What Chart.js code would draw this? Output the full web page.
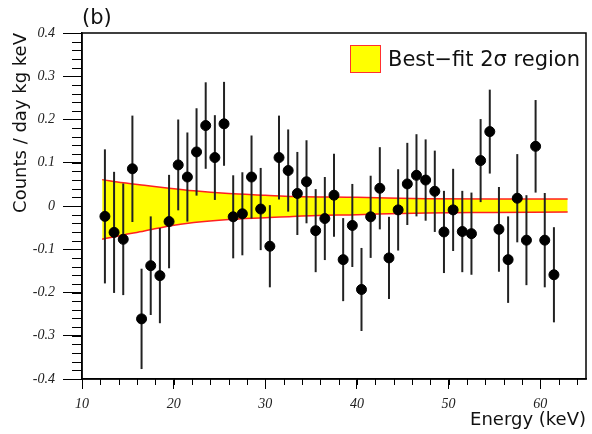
<!DOCTYPE html>
<html>
<head>
<meta charset="utf-8">
<script src="https://cdn.jsdelivr.net/npm/chart.js@4"></script>
<style>
    body { margin: 0; background: #fff; }
    #box { width: 592px; height: 434px; position: relative; }
</style>
</head>
<body>
<div id="box"><canvas id="spectrum"></canvas></div>
<script>
// residual counts per energy bin
var energy = [12.5, 13.5, 14.5, 15.5, 16.5, 17.5, 18.5, 19.5, 20.5, 21.5,
    22.5, 23.5, 24.5, 25.5, 26.5, 27.5, 28.5, 29.5, 30.5, 31.5,
    32.5, 33.5, 34.5, 35.5, 36.5, 37.5, 38.5, 39.5, 40.5, 41.5,
    42.5, 43.5, 44.5, 45.5, 46.5, 47.5, 48.5, 49.5, 50.5, 51.5,
    52.5, 53.5, 54.5, 55.5, 56.5, 57.5, 58.5, 59.5, 60.5, 61.5];
var counts = [-0.024, -0.061, -0.077, 0.086, -0.261, -0.138, -0.161, -0.036, 0.095, 0.067,
    0.125, 0.186, 0.112, 0.190, -0.025, -0.018, 0.067, -0.007, -0.093, 0.112,
    0.082, 0.029, 0.056, -0.057, -0.029, 0.025, -0.124, -0.045, -0.193, -0.025,
    0.041, -0.120, -0.009, 0.051, 0.071, 0.060, 0.034, -0.060, -0.009, -0.059,
    -0.064, 0.105, 0.172, -0.054, -0.124, 0.018, -0.079, 0.138, -0.079, -0.159];
var errors = [0.155, 0.140, 0.129, 0.123, 0.116, 0.114, 0.110, 0.108, 0.105, 0.103,
    0.101, 0.100, 0.098, 0.097, 0.096, 0.096, 0.096, 0.095, 0.095, 0.097,
    0.095, 0.096, 0.096, 0.096, 0.096, 0.096, 0.096, 0.096, 0.096, 0.095,
    0.095, 0.095, 0.094, 0.095, 0.095, 0.094, 0.094, 0.095, 0.095, 0.094,
    0.095, 0.096, 0.097, 0.098, 0.100, 0.102, 0.104, 0.107, 0.109, 0.110];

// best-fit 2 sigma band
var bandE = [12.2, 14.5, 16.8, 19.5, 22.2, 26, 30, 33, 40, 47.6, 55, 63];
var bandHi = [0.061, 0.054, 0.048, 0.041, 0.035, 0.029, 0.025, 0.022, 0.020, 0.017, 0.016, 0.016];
var bandLo = [-0.077, -0.067, -0.058, -0.046, -0.038, -0.031, -0.027, -0.024, -0.020, -0.016, -0.015, -0.014];

var yTicks = [-0.4, -0.3, -0.2, -0.1, 0, 0.1, 0.2, 0.3, 0.4];
var xTicks = [10, 20, 30, 40, 50, 60];

var sans = "'DejaVu Sans', sans-serif";
var tickFont = { family: "'Liberation Serif', serif", style: "italic", size: 14 };

var pts = energy.map((e, i) => ({ x: e, y: counts[i] }));
var hi = bandE.map((e, i) => ({ x: e, y: bandHi[i] }));
var lo = bandE.map((e, i) => ({ x: e, y: bandLo[i] }));

// error bars, minor ticks, frame, legend, panel letter
var extras = {
    id: "extras",
    beforeDatasetDraw(chart, args) {
        if (args.index !== 0) return;
        var ctx = chart.ctx;
        var x = chart.scales.x, y = chart.scales.y;
        ctx.save();
        ctx.strokeStyle = "#222";
        ctx.lineWidth = 2;
        energy.forEach((e, i) => {
            var px = x.getPixelForValue(e);
            ctx.beginPath();
            ctx.moveTo(px, y.getPixelForValue(counts[i] - errors[i]));
            ctx.lineTo(px, y.getPixelForValue(counts[i] + errors[i]));
            ctx.stroke();
        });
        ctx.restore();
    },
    afterDraw(chart) {
        var ctx = chart.ctx;
        var a = chart.chartArea;
        var x = chart.scales.x, y = chart.scales.y;
        ctx.save();
        ctx.strokeStyle = "#000";
        ctx.lineWidth = 1;
        // minor ticks
        for (var v = -40; v <= 40; v += 2) {
            var py = Math.round(y.getPixelForValue(v / 100)) + 0.5;
            ctx.beginPath();
            ctx.moveTo(a.left - 10, py);
            ctx.lineTo(a.left, py);
            ctx.stroke();
        }
        for (var e = 10; e <= 64; e += 2) {
            var px = Math.round(x.getPixelForValue(e)) + 0.5;
            ctx.beginPath();
            ctx.moveTo(px, a.bottom);
            ctx.lineTo(px, a.bottom + 6);
            ctx.stroke();
        }
        // frame
        ctx.lineWidth = 1.5;
        ctx.strokeRect(a.left, a.top, a.right - a.left, a.bottom - a.top);

        // legend
        ctx.fillStyle = "#ffff00";
        ctx.fillRect(350, 45, 30, 27);
        ctx.strokeStyle = "#ff3030";
        ctx.lineWidth = 1;
        ctx.strokeRect(350.5, 45.5, 30, 27);
        ctx.fillStyle = "#111";
        ctx.font = "21px " + sans;
        ctx.textBaseline = "middle";
        ctx.fillText("Best\u2212fit 2\u03c3 region", 388, 61);

        ctx.font = "21px " + sans;
        ctx.fillText("(b)", 82, 19);
        ctx.restore();
    }
};

var ctx = document.getElementById("spectrum").getContext("2d");

var chart = new Chart(ctx, {
    type: "scatter",
    data: {
        datasets: [
            {
                label: "data",
                data: pts,
                backgroundColor: "#000",
                borderColor: "#000",
                pointRadius: 5,
                pointHoverRadius: 5,
            },
            {
                label: "Best-fit 2\u03c3 region",
                type: "line",
                data: hi,
                borderColor: "#ff2020",
                borderWidth: 1.5,
                backgroundColor: "#ffff00",
                fill: "+1",
                pointRadius: 0,
                cubicInterpolationMode: "monotone",
            },
            {
                label: "lower",
                type: "line",
                data: lo,
                borderColor: "#ff2020",
                borderWidth: 1.5,
                pointRadius: 0,
                fill: false,
                cubicInterpolationMode: "monotone",
            },
        ],
    },
    options: {
        responsive: true,
        maintainAspectRatio: false,
        animation: false,
        layout: { padding: { top: 33, right: 2, left: 0, bottom: 0 } },
        plugins: {
            legend: { display: false },
            tooltip: { enabled: false },
            filler: { drawTime: "beforeDatasetsDraw" },
        },
        scales: {
            x: {
                type: "linear",
                min: 10,
                max: 65,
                afterFit: (s) => { s.height = 55; },
                afterBuildTicks: (s) => { s.ticks = xTicks.map((v) => ({ value: v })); },
                grid: { drawOnChartArea: false, drawTicks: true, tickLength: 10, color: "#000" },
                border: { display: true, color: "#000", width: 1.5 },
                ticks: { font: tickFont, color: "#222", padding: 7, maxRotation: 0 },
                title: {
                    display: true,
                    text: "Energy (keV)",
                    align: "end",
                    color: "#111",
                    font: { family: sans, size: 18 },
                    padding: { top: 0, bottom: 3 },
                },
            },
            y: {
                min: -0.4,
                max: 0.4,
                afterFit: (s) => { s.width = 82; },
                afterBuildTicks: (s) => { s.ticks = yTicks.map((v) => ({ value: v })); },
                grid: { drawOnChartArea: false, drawTicks: true, tickLength: 19, color: "#000" },
                border: { display: true, color: "#000", width: 1.5 },
                ticks: {
                    font: tickFont,
                    color: "#222",
                    padding: 8,
                    callback: (v) => (Math.abs(v) < 1e-9 ? "0" : v.toFixed(1)),
                },
                title: {
                    display: true,
                    text: "Counts / day kg keV",
                    align: "end",
                    color: "#111",
                    font: { family: sans, size: 18 },
                    padding: { top: 11, bottom: 0 },
                },
            },
        },
    },
    plugins: [extras],
});
</script>
</body>
</html>
